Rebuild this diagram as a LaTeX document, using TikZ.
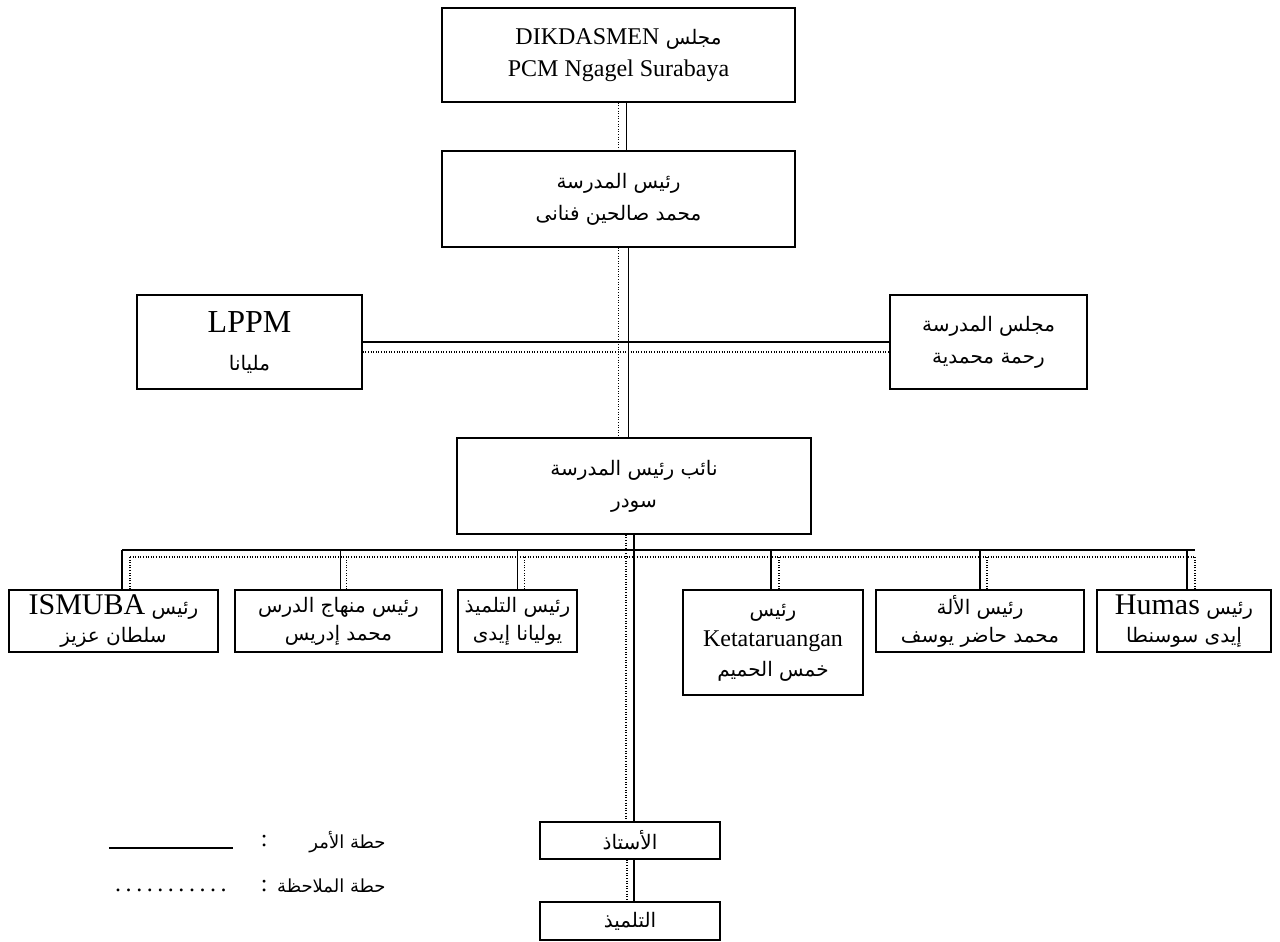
\documentclass[tikz,border=0pt]{standalone}
\usepackage{fontspec}
\usepackage{tikz}
\setmainfont{Liberation Serif}
\newfontfamily\arabicfont[Script=Arabic]{DejaVu Sans}
\TeXXeTstate=1
\newcommand{\arab}[1]{{\arabicfont\fontsize{10}{14}\selectfont\beginR #1\endR}}
\newcommand{\latn}[2][15]{\beginL{\normalfont\fontsize{#1}{14}\selectfont #2}\endL{}}
\tikzset{
  unit/.style={draw, line width=0.8pt, align=center, inner sep=0pt, font=\fontsize{12}{16}\selectfont},
  bidang/.style={unit, font=\fontsize{12}{14}\selectfont, minimum height=31pt},
  komando/.style={line width=0.8pt},
  koordinasi/.style={line width=0.6pt, dash pattern=on 0.5pt off 0.8pt},
  ket/.style={anchor=east, inner sep=0pt, font=\fontsize{12}{14}\selectfont}
}

\begin{document}
\begin{tikzpicture}[x=0.5pt,y=-0.5pt]
            \useasboundingbox (0,0) rectangle (1280,942);
            % pimpinan
            \node[unit,minimum width=176.5pt,minimum height=47pt] (dikdasmen) at (618.5,55) {\arab{مجلس \latn[12]{DIKDASMEN}}\\PCM Ngagel Surabaya};
            \node[unit,minimum width=176.5pt,minimum height=48pt] (kepsek) at (618.5,199) {\arab{رئيس المدرسة}\\\arab{محمد صالحين فنانى}};
            \node[unit,font=\fontsize{12}{19}\selectfont,minimum width=112.5pt,minimum height=47pt] (lppm) at (249.5,342) {{\fontsize{16}{16}\selectfont LPPM}\\\arab{مليانا}};
            \node[unit,minimum width=98.5pt,minimum height=47pt] (komite) at (988.5,342) {\arab{مجلس المدرسة}\\\arab{رحمة محمدية}};
            \node[unit,minimum width=177pt,minimum height=48pt] (wakasek) at (634,486) {\arab{نائب رئيس المدرسة}\\\arab{سودر}};
            % bidang
            \node[bidang,minimum width=104.5pt] (ismuba) at (113.5,621) {\arab{رئيس \latn{ISMUBA}}\\\arab{سلطان عزيز}};
            \node[bidang,minimum width=103.5pt] (kurikulum) at (338.5,621) {\arab{رئيس منهاج الدرس}\\\arab{محمد إدريس}};
            \node[bidang,minimum width=59.5pt] (kesiswaan) at (517.5,621) {\arab{رئيس التلميذ}\\\arab{يوليانا إيدى}};
            \node[unit,font=\fontsize{12}{15}\selectfont,minimum width=90pt,minimum height=52.5pt] (ketata) at (773,642.5) {\arab{رئيس}\\Ketataruangan\\\arab{خمس الحميم}};
            \node[bidang,minimum width=104pt] (sarpras) at (980,621) {\arab{رئيس الألة}\\\arab{محمد حاضر يوسف}};
            \node[bidang,minimum width=87pt] (humas) at (1184,621) {\arab{رئيس \latn{Humas}}\\\arab{إيدى سوسنطا}};
            % guru, siswa
            \node[unit,minimum width=90pt,minimum height=18.5pt] (guru) at (630,840.5) {\arab{الأستاذ}};
            \node[unit,minimum width=90pt,minimum height=19pt] (siswa) at (630,921) {\arab{التلميذ}};
            \coordinate (busL) at (122,550);
            \coordinate (busR) at (1195,550);
            \coordinate (dbusL) at (130,557);
            \coordinate (dbusR) at (1195,557);
            % garis komando
            \draw[komando] ([xshift=4pt]dikdasmen.south) -- ([xshift=4pt]kepsek.north);
            \draw[koordinasi] (dikdasmen.south) -- (kepsek.north);
            \draw[komando] ([xshift=5pt]kepsek.south) -- ([xshift=5pt]kepsek.south |- wakasek.north);
            \draw[koordinasi] (kepsek.south) -- (kepsek.south |- wakasek.north);
            \draw[komando] (lppm.east) -- (komite.west);
            \draw[koordinasi] ([yshift=-5pt]lppm.east) -- ([yshift=-5pt]komite.west);
            \draw[komando] (wakasek.south) -- (wakasek.south |- guru.north);
            \draw[koordinasi] ([xshift=-4pt]wakasek.south) -- ([xshift=-4pt]wakasek.south |- guru.north);
            \draw[komando] (wakasek.south |- guru.south) -- (wakasek.south |- siswa.north);
            \draw[koordinasi] ([xshift=-3.5pt]wakasek.south |- guru.south) -- ([xshift=-3.5pt]wakasek.south |- siswa.north);
            \draw[komando] (busL) -- (busR);
            \draw[koordinasi] (dbusL) -- (dbusR);
            \draw[komando] (ismuba.north -| busL) -- (busL);
            \draw[koordinasi] (ismuba.north -| dbusL) -- (dbusL);
            \draw[komando] ([xshift=1pt]kurikulum.north) -- ([xshift=1pt]kurikulum.north |- busL);
            \draw[koordinasi] ([xshift=4pt]kurikulum.north) -- ([xshift=4pt]kurikulum.north |- dbusL);
            \draw[komando] (kesiswaan.north) -- (kesiswaan.north |- busL);
            \draw[koordinasi] ([xshift=3.5pt]kesiswaan.north) -- ([xshift=3.5pt]kesiswaan.north |- dbusL);
            \draw[komando] ([xshift=-1pt]ketata.north) -- ([xshift=-1pt]ketata.north |- busL);
            \draw[koordinasi] ([xshift=3pt]ketata.north) -- ([xshift=3pt]ketata.north |- dbusL);
            \draw[komando] (sarpras.north) -- (sarpras.north |- busL);
            \draw[koordinasi] ([xshift=3.5pt]sarpras.north) -- ([xshift=3.5pt]sarpras.north |- dbusL);
            \draw[komando] ([xshift=1.5pt]humas.north) -- ([xshift=1.5pt]humas.north |- busL);
            \draw[koordinasi] (humas.north -| dbusR) -- (dbusR);
            % keterangan
            \node[ket] (komandolbl) at (386,842) {{\arabicfont\fontsize{9}{14}\selectfont\beginR حطة الأمر\endR}};
            \node[ket] (komandokey) at (268,842) {\rule[-1pt]{62pt}{0.6pt}\hspace{14pt}:};
            \node[ket] (koordlbl) at (386,886) {{\arabicfont\fontsize{9}{14}\selectfont\beginR حطة الملاحظة\endR}};
            \node[ket] (koordkey) at (268,886) {\makebox[62pt]{\dotfill}\hspace{14pt}:};
          \end{tikzpicture}
\end{document}
